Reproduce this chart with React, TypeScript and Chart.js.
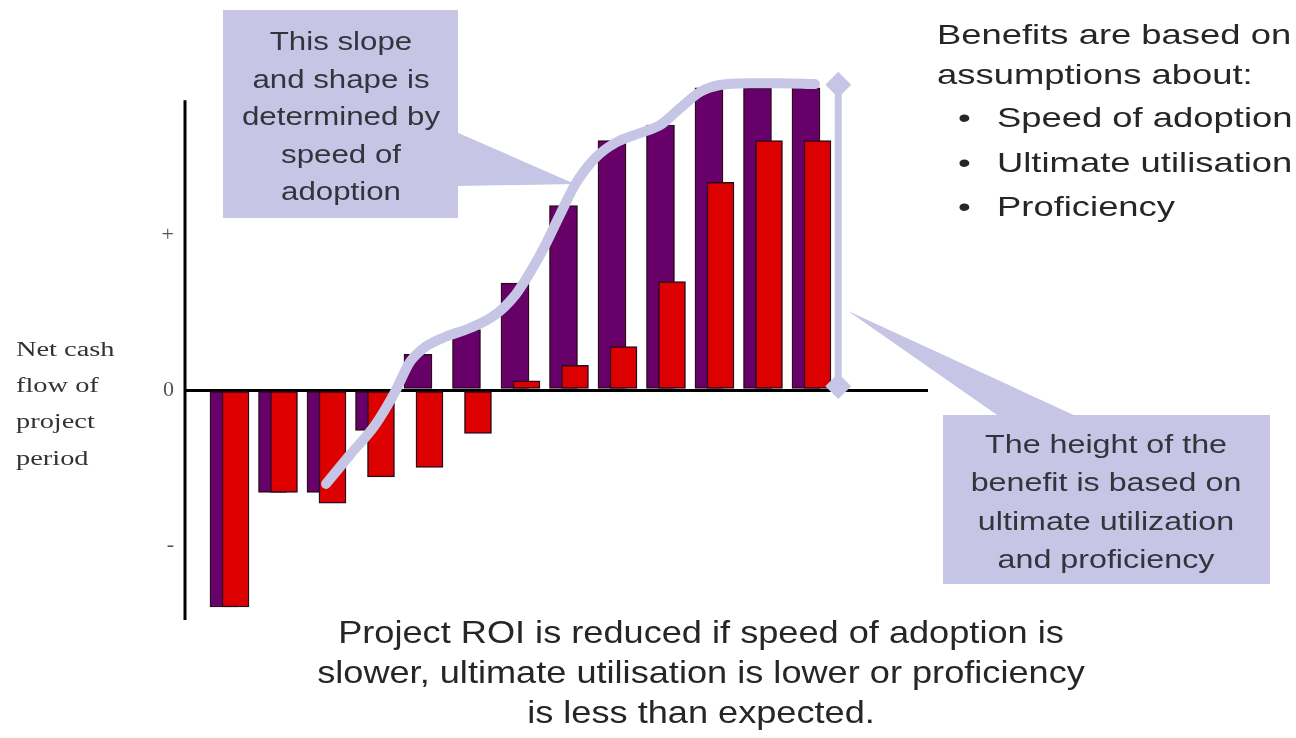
import React, { useEffect, useRef } from "react";
import { Chart, registerables } from "chart.js";

Chart.register(...registerables);

// ---- data -------------------------------------------------------------
const periods = [1, 2, 3, 4, 5, 6, 7, 8, 9, 10, 11, 12, 13];
const expectedFlow = [-140, -66, -66, -26, 23, 39, 69, 119, 161, 171, 195, 195, 195];
const reducedFlow = [-140, -66, -73, -56, -50, -28, 6, 16, 28, 70, 134, 161, 161];

const curveX = [2.99, 3.48, 4.0, 4.41, 4.72, 5.03, 5.44, 5.96, 6.47, 6.89, 7.2, 7.51, 7.81, 8.12, 8.54, 8.95, 9.46, 9.88, 10.29, 10.7, 11.11, 11.73, 12.35, 13.07];
const curveY = [-60.6, -41.9, -22.6, -1.3, 18.1, 27.7, 34.2, 40, 48.4, 61.3, 76.1, 93.5, 112.9, 132.3, 149.7, 159.4, 165.8, 171, 181.9, 192.3, 196.8, 198, 198, 197.4];

const benefitX = [13.55, 13.55];
const benefitY = [2.5, 197];

const tickValues = [-100, 0, 100];
const tickLabels = ["-", "0", "+"];
const axisTopValue = 187;

// ---- styles -----------------------------------------------------------
const PURPLE = "#670068";
const RED = "#DD0000";
const EDGE = "#2c0a1c";
const LAV = "#C7C5E5";
const SANS = "'Liberation Sans', Arial, sans-serif";
const SERIF = "'Liberation Serif', 'Times New Roman', serif";

type TxtProps = {
  text: string;
  x: number;
  baseline: number;
  size: number;
  sx?: number;
  anchor?: "left" | "center";
  family?: string;
  color?: string;
};

function Txt({ text, x, baseline, size, sx = 1, anchor = "left", family = SANS, color = "#262626" }: TxtProps) {
  const top = baseline - 0.845 * size;
  const transform = anchor === "center" ? `translateX(-50%) scaleX(${sx})` : `scaleX(${sx})`;
  return (
    <div
      style={{
        position: "absolute",
        left: x,
        top,
        fontFamily: family,
        fontSize: size,
        lineHeight: `${size}px`,
        whiteSpace: "nowrap",
        color,
        transform,
        transformOrigin: anchor === "center" ? "center" : "left",
      }}
    >
      {text}
    </div>
  );
}

// draws the vertical value axis line from axisTopValue down to the bottom of the area
const axisLinePlugin = {
  id: "axisLine",
  beforeDatasetsDraw(chart: any) {
    const y = chart.scales.y;
    const area = chart.chartArea;
    const ctx = chart.ctx;
    ctx.save();
    ctx.strokeStyle = "#000";
    ctx.lineWidth = 3;
    ctx.beginPath();
    ctx.moveTo(area.left, y.getPixelForValue(axisTopValue));
    ctx.lineTo(area.left, area.bottom);
    ctx.stroke();
    ctx.restore();
  },
};

export default function App() {
  const canvasRef = useRef<HTMLCanvasElement | null>(null);

  useEffect(() => {
    const canvas = canvasRef.current;
    if (!canvas) return;
    const chart = new Chart(canvas, {
      type: "bar",
      plugins: [axisLinePlugin],
      data: {
        datasets: [
          {
            type: "line",
            label: "Speed of adoption",
            data: curveX.map((x, i) => ({ x, y: curveY[i] })),
            xAxisID: "xc",
            yAxisID: "y",
            borderColor: LAV,
            borderWidth: 10,
            pointRadius: 0,
            cubicInterpolationMode: "monotone",
            borderCapStyle: "round",
            borderJoinStyle: "round",
            clip: false,
            order: 1,
          } as any,
          {
            type: "line",
            label: "Height of benefit",
            data: benefitX.map((x, i) => ({ x, y: benefitY[i] })),
            xAxisID: "xc",
            yAxisID: "y",
            borderColor: LAV,
            borderWidth: 7,
            pointStyle: "rectRot",
            pointRadius: 8,
            pointBackgroundColor: LAV,
            pointBorderColor: LAV,
            tension: 0,
            clip: false,
            order: 0,
          } as any,
          {
            type: "bar",
            label: "Reduced",
            data: periods.map((x, i) => ({ x, y: reducedFlow[i] })),
            xAxisID: "xr",
            yAxisID: "y",
            backgroundColor: RED,
            borderColor: EDGE,
            borderWidth: 1.5,
            borderSkipped: false,
            barThickness: 27,
            grouped: false,
            clip: false,
            order: 2,
          } as any,
          {
            type: "bar",
            label: "Expected",
            data: periods.map((x, i) => ({ x, y: expectedFlow[i] })),
            xAxisID: "xp",
            yAxisID: "y",
            backgroundColor: PURPLE,
            borderColor: EDGE,
            borderWidth: 1.5,
            borderSkipped: false,
            barThickness: 28,
            grouped: false,
            clip: false,
            order: 3,
          } as any,
        ],
      },
      options: {
        animation: false,
        responsive: true,
        maintainAspectRatio: false,
        events: [],
        layout: { padding: { left: 0, right: 368, top: 70, bottom: 118 } },
        plugins: { legend: { display: false }, tooltip: { enabled: false } },
        scales: {
          xp: { type: "linear", axis: "x", display: false, offset: false, min: 0.196, max: 15.516 },
          xr: { type: "linear", axis: "x", display: false, offset: false, min: -0.041, max: 15.279 },
          xc: { type: "linear", axis: "x", display: false, offset: false, min: 0.0825, max: 15.4 },
          y: {
            type: "linear",
            position: "left",
            min: -148.4,
            max: 206.5,
            afterFit: (s: any) => {
              s.width = 185;
            },
            afterBuildTicks: (s: any) => {
              s.ticks = tickValues.map((v) => ({ value: v }));
            },
            ticks: {
              callback: (v: any) => tickLabels[tickValues.indexOf(Number(v))],
              padding: 11,
              font: { family: SERIF, size: 22 },
              color: "#555",
            },
            grid: {
              drawTicks: false,
              color: (c: any) => (c.tick && c.tick.value === 0 ? "#000" : "rgba(0,0,0,0)"),
              lineWidth: 3,
            },
            border: { display: false },
          },
        } as any,
      },
    });
    return () => chart.destroy();
  }, []);

  return (
    <div
      style={{
        position: "absolute",
        left: 0,
        top: 0,
        width: 1296,
        height: 738,
        background: "#fff",
        overflow: "hidden",
      }}
    >
      <svg width={1296} height={738} style={{ position: "absolute", left: 0, top: 0 }}>
        <rect x={223} y={10} width={235} height={208} fill={LAV} />
        <polygon points="456,132 575,184 456,186" fill={LAV} />
        <rect x={943} y={415} width={327} height={169} fill={LAV} />
        <polygon points="848,311 1078,417 1000,417" fill={LAV} />
      </svg>

      <div style={{ position: "absolute", left: 0, top: 0, width: 1296, height: 738 }}>
        <canvas ref={canvasRef} />
      </div>

      {/* y axis title */}
      <Txt text="Net cash" x={16} baseline={356} size={20} sx={1.42} family={SERIF} color="#333" />
      <Txt text="flow of" x={16} baseline={392} size={20} sx={1.42} family={SERIF} color="#333" />
      <Txt text="project" x={16} baseline={428} size={20} sx={1.42} family={SERIF} color="#333" />
      <Txt text="period" x={16} baseline={465} size={20} sx={1.42} family={SERIF} color="#333" />

      {/* top-left callout */}
      <Txt text="This slope" x={341} baseline={50} size={25} sx={1.25} anchor="center" color="#34343c" />
      <Txt text="and shape is" x={341} baseline={88} size={25} sx={1.25} anchor="center" color="#34343c" />
      <Txt text="determined by" x={341} baseline={125} size={25} sx={1.25} anchor="center" color="#34343c" />
      <Txt text="speed of" x={341} baseline={163} size={25} sx={1.25} anchor="center" color="#34343c" />
      <Txt text="adoption" x={341} baseline={200} size={25} sx={1.25} anchor="center" color="#34343c" />

      {/* top-right notes */}
      <Txt text="Benefits are based on" x={937} baseline={45} size={28} sx={1.3} />
      <Txt text="assumptions about:" x={937} baseline={85} size={28} sx={1.3} />
      <Txt text="•" x={958} baseline={128} size={28} sx={1.3} />
      <Txt text="Speed of adoption" x={997} baseline={128} size={28} sx={1.3} />
      <Txt text="•" x={958} baseline={173} size={28} sx={1.3} />
      <Txt text="Ultimate utilisation" x={997} baseline={173} size={28} sx={1.3} />
      <Txt text="•" x={958} baseline={217} size={28} sx={1.3} />
      <Txt text="Proficiency" x={997} baseline={217} size={28} sx={1.3} />

      {/* bottom-right callout */}
      <Txt text="The height of the" x={1106} baseline={453} size={26} sx={1.24} anchor="center" color="#34343c" />
      <Txt text="benefit is based on" x={1106} baseline={491} size={26} sx={1.24} anchor="center" color="#34343c" />
      <Txt text="ultimate utilization" x={1106} baseline={530} size={26} sx={1.24} anchor="center" color="#34343c" />
      <Txt text="and proficiency" x={1106} baseline={568} size={26} sx={1.24} anchor="center" color="#34343c" />

      {/* bottom note */}
      <Txt text="Project ROI is reduced if speed of adoption is" x={701} baseline={643} size={32} sx={1.13} anchor="center" />
      <Txt text="slower, ultimate utilisation is lower or proficiency" x={701} baseline={683} size={32} sx={1.13} anchor="center" />
      <Txt text="is less than expected." x={701} baseline={723} size={32} sx={1.13} anchor="center" />
    </div>
  );
}
